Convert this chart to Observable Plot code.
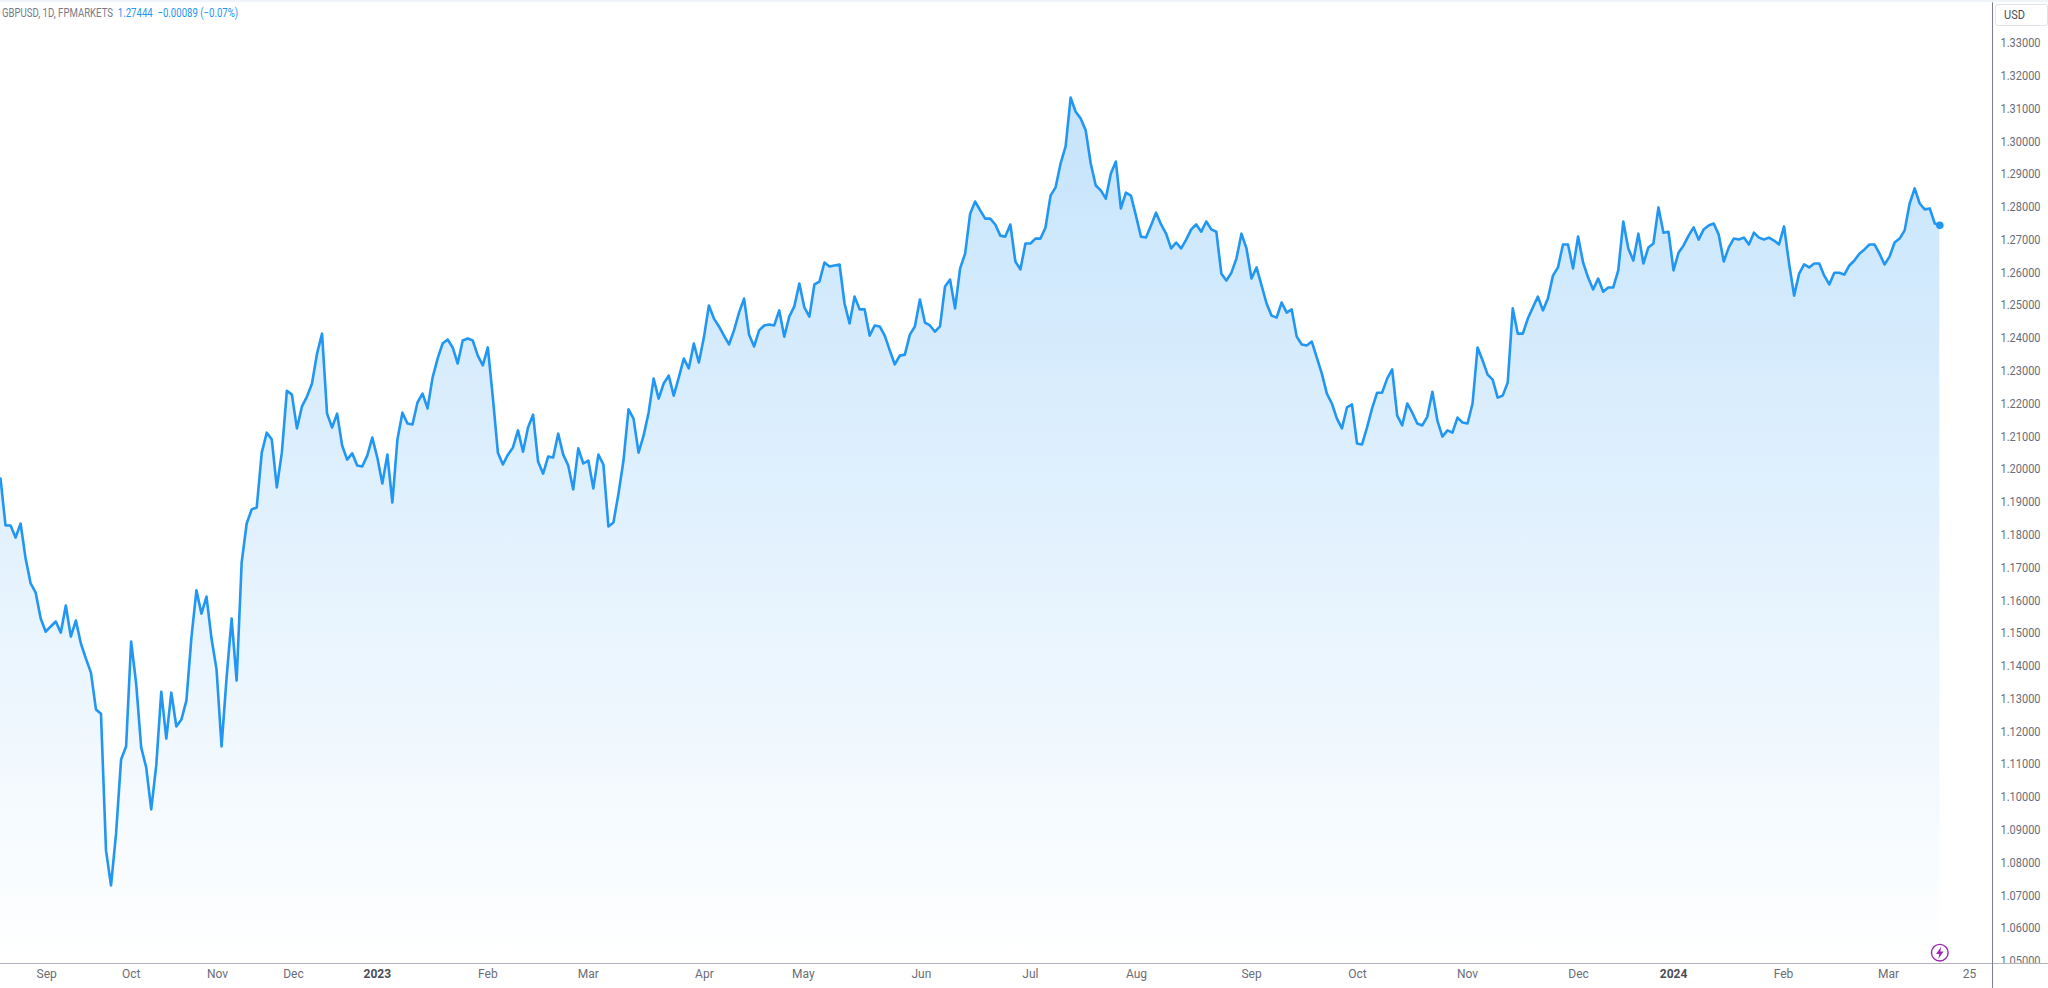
<!DOCTYPE html>
<html>
<head>
<meta charset="utf-8">
<script src="https://cdn.jsdelivr.net/npm/d3@7"></script>
<script src="https://cdn.jsdelivr.net/npm/@observablehq/plot@0.6"></script>
<style>
html,body{margin:0;padding:0;background:#fff;overflow:hidden;width:2048px;height:988px}
#chart{position:absolute;left:0;top:0}
#band{position:absolute;left:0;top:0;width:2048px;height:2px;background:#f0f3fa}
#legend{position:absolute;left:2px;top:6px;font:12px/14px Roboto,sans-serif;color:#787b86;white-space:pre;transform:scaleX(.8);transform-origin:left center}
#legend span{color:#2196f3}
#usd{position:absolute;left:1995px;top:4px;width:51px;height:20px;border:1px solid #e0e3eb;border-radius:3px;color:#4a4d57;box-sizing:content-box}
#usd b{display:block;font:12.5px/20px Roboto,sans-serif;margin-left:8px;transform:scaleX(.88);transform-origin:left center}
</style>
</head>
<body>
<div id="chart"></div>
<div id="band"></div>
<div id="legend">GBPUSD, 1D, FPMARKETS  <span>1.27444  −0.00089 (−0.07%)</span></div>
<div id="usd"><b>USD</b></div>
<script>
const closes = [
1.1972,1.1829,1.1829,1.1792,1.1835,1.1728,1.1652,1.1624,1.1545,1.1505,
1.1521,1.1536,1.1502,1.1585,1.1490,1.1539,1.1469,1.1423,1.1380,1.1268,
1.1255,1.0838,1.0731,1.0889,1.1115,1.1155,1.1475,1.1347,1.1152,1.1091,
1.0963,1.1097,1.1322,1.1179,1.1319,1.1216,1.1237,1.1295,1.1487,1.1631,
1.1560,1.1612,1.1484,1.1390,1.1155,1.1365,1.1545,1.1356,1.1716,1.1835,
1.1878,1.1884,1.2051,1.2112,1.2091,1.1945,1.2051,1.2240,1.2228,1.2125,
1.2192,1.2222,1.2262,1.2353,1.2414,1.2170,1.2128,1.2170,1.2073,1.2030,
1.2049,1.2012,1.2009,1.2042,1.2097,1.2036,1.1957,1.2045,1.1899,1.2091,
1.2173,1.2140,1.2137,1.2204,1.2231,1.2186,1.2280,1.2338,1.2384,1.2396,
1.2372,1.2323,1.2393,1.2399,1.2393,1.2347,1.2317,1.2372,1.2219,1.2051,
1.2015,1.2045,1.2067,1.2119,1.2054,1.2128,1.2167,1.2024,1.1987,1.2039,
1.2036,1.2109,1.2045,1.2012,1.1939,1.2064,1.2018,1.2027,1.1942,1.2045,
1.2015,1.1826,1.1838,1.1926,1.2027,1.2183,1.2155,1.2051,1.2103,1.2173,
1.2277,1.2216,1.2262,1.2286,1.2225,1.2280,1.2338,1.2308,1.2384,1.2326,
1.2402,1.2500,1.2460,1.2436,1.2408,1.2381,1.2424,1.2478,1.2521,1.2411,
1.2375,1.2424,1.2439,1.2442,1.2439,1.2485,1.2405,1.2466,1.2497,1.2567,
1.2494,1.2466,1.2564,1.2573,1.2631,1.2619,1.2622,1.2625,1.2506,1.2445,
1.2527,1.2488,1.2488,1.2408,1.2439,1.2436,1.2408,1.2363,1.2320,1.2347,
1.2350,1.2411,1.2436,1.2518,1.2448,1.2439,1.2420,1.2436,1.2558,1.2579,
1.2491,1.2613,1.2658,1.2780,1.2817,1.2790,1.2765,1.2765,1.2747,1.2713,
1.2710,1.2747,1.2634,1.2610,1.2689,1.2689,1.2704,1.2704,1.2738,1.2835,
1.2860,1.2933,1.2985,1.3134,1.3091,1.3070,1.3034,1.2933,1.2866,1.2851,
1.2826,1.2902,1.2939,1.2796,1.2844,1.2835,1.2774,1.2710,1.2707,1.2744,
1.2783,1.2747,1.2719,1.2674,1.2692,1.2674,1.2701,1.2732,1.2747,1.2725,
1.2756,1.2732,1.2725,1.2597,1.2576,1.2600,1.2643,1.2719,1.2674,1.2582,
1.2616,1.2561,1.2506,1.2469,1.2463,1.2509,1.2478,1.2488,1.2405,1.2381,
1.2378,1.2390,1.2341,1.2292,1.2231,1.2201,1.2155,1.2125,1.2189,1.2198,
1.2079,1.2076,1.2128,1.2186,1.2234,1.2234,1.2277,1.2305,1.2164,1.2134,
1.2201,1.2173,1.2140,1.2134,1.2161,1.2237,1.2149,1.2100,1.2119,1.2112,
1.2158,1.2143,1.2140,1.2201,1.2372,1.2332,1.2289,1.2274,1.2219,1.2225,
1.2265,1.2491,1.2414,1.2414,1.2460,1.2494,1.2527,1.2485,1.2521,1.2591,
1.2616,1.2686,1.2686,1.2613,1.2710,1.2631,1.2585,1.2549,1.2582,1.2542,
1.2555,1.2555,1.2607,1.2756,1.2674,1.2637,1.2719,1.2628,1.2677,1.2689,
1.2799,1.2722,1.2725,1.2607,1.2661,1.2683,1.2713,1.2738,1.2701,1.2732,
1.2744,1.2750,1.2716,1.2634,1.2677,1.2704,1.2701,1.2707,1.2686,1.2722,
1.2707,1.2701,1.2707,1.2698,1.2686,1.2741,1.2628,1.2530,1.2597,1.2625,
1.2616,1.2628,1.2628,1.2591,1.2564,1.2600,1.2600,1.2594,1.2622,1.2637,
1.2658,1.2671,1.2686,1.2686,1.2658,1.2625,1.2649,1.2692,1.2704,1.2729,
1.2811,1.2857,1.2811,1.2793,1.2796,1.2750,1.27444
];
const priceTicks = [1.05,1.06,1.07,1.08,1.09,1.10,1.11,1.12,1.13,1.14,1.15,1.16,1.17,1.18,1.19,1.20,1.21,1.22,1.23,1.24,1.25,1.26,1.27,1.28,1.29,1.30,1.31,1.32,1.33];
const monthLabels = ["Sep","Oct","Nov","Dec","Feb","Mar","Apr","May","Jun","Jul","Aug","Sep","Oct","Nov","Dec","Feb","Mar","25"];
const monthTicks  = [9.2,26,43.2,58.3,97,117,140.1,159.8,183.3,205,226.1,249,270.1,292,314.1,354.9,375.8,391.9];
const yearLabels = ["2023","2024"];
const yearTicks  = [75,333];
const baseline = 1.0496;
const series = closes.map((close, bar) => ({bar, close}));
const last = series[series.length - 1];

const fontFamily = 'Roboto, sans-serif';
const gradient = () => {
  const defs = d3.create("svg:defs");
  const g = defs.append("linearGradient").attr("id","areaFill").attr("x1",0).attr("x2",0).attr("y1",0).attr("y2",1);
  g.append("stop").attr("offset","0%").attr("stop-color","#2196f3").attr("stop-opacity",0.26);
  g.append("stop").attr("offset","100%").attr("stop-color","#2196f3").attr("stop-opacity",0);
  return defs.node();
};
const bolt = {draw(ctx, size) {
  const s = Math.sqrt(size) / 10;
  ctx.moveTo(1.2*s,-5*s); ctx.lineTo(-3*s,1*s); ctx.lineTo(-0.4*s,1*s);
  ctx.lineTo(-1.2*s,5*s); ctx.lineTo(3*s,-1*s); ctx.lineTo(0.4*s,-1*s); ctx.closePath();
}};

const chart = Plot.plot({
  width: 2048, height: 988,
  marginLeft: 0, marginRight: 56, marginTop: 0, marginBottom: 25,
  x: {type:"linear", domain:[0,386], range:[0,1939.3]},
  y: {type:"linear", domain:[1.05,1.33], range:[960.7,42.67]},
  symbol: {type:"identity"},
  style: {fontFamily, background:"transparent"},
  marks: [
    gradient,
    Plot.areaY(series, {x:"bar", y1:baseline, y2:"close", fill:"url(#areaFill)", curve:"linear"}),
    Plot.lineY(series, {x:"bar", y:"close", stroke:"#2196f3", strokeWidth:2.6, curve:"linear"}),
    Plot.dot([last], {x:"bar", y:"close", r:3.8, fill:"#2196f3", stroke:"none"}),
    Plot.axisY(priceTicks, {anchor:"right", tickSize:0, tickPadding:8, tickFormat:d3.format(".5f"), fontSize:12.5, fill:"#6a6d78", label:null}),
    Plot.rect([0], {x1:397, x2:407.7, y1:1.0417, y2:1.0493, fill:"#fff"}),
    Plot.ruleY([1.0493], {x1:0, x2:407.7, stroke:"#b2b5be", strokeWidth:1}),
    Plot.ruleX([396.5], {y1:1.0417, y2:1.3423, stroke:"#787b86", strokeWidth:1}),
    Plot.axisX(monthTicks, {anchor:"bottom", tickSize:0, tickPadding:6, tickFormat:(d)=>monthLabels[monthTicks.indexOf(d)], fontSize:12, fill:"#6a6d78", label:null}),
    Plot.axisX(yearTicks, {anchor:"bottom", tickSize:0, tickPadding:6, tickFormat:(d)=>yearLabels[yearTicks.indexOf(d)], fontSize:12, fontWeight:"bold", fill:"#4a4d57", label:null}),
    Plot.dot([last], {x:"bar", y:()=>1.0526, r:8.3, fill:"none", stroke:"#9c27b0", strokeWidth:1.4}),
    Plot.dot([last], {x:"bar", y:()=>1.0526, symbol:()=>bolt, r:7, fill:"#9c27b0", stroke:"none"})
  ]
});
chart.querySelectorAll('g[aria-label="y-axis tick label"] text').forEach(t => {
  t.setAttribute("textLength", 40);
  t.setAttribute("lengthAdjust", "spacingAndGlyphs");
});
document.getElementById("chart").append(chart);
</script>
</body>
</html>
